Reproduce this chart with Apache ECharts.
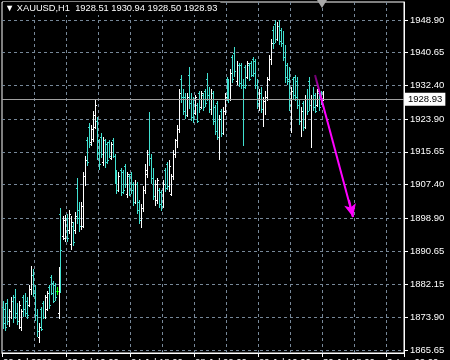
<!DOCTYPE html>
<html>
<head>
<meta charset="utf-8">
<script src="https://cdn.jsdelivr.net/npm/echarts@6/dist/echarts.min.js"></script>
<style>html,body{margin:0;padding:0;background:#000;}#c{width:450px;height:360px;}</style>
</head>
<body>
<div id="c"></div>
<script>
// ---- data (XAUUSD H1) ----
const opens = [
1876.5,1876.0,1877.5,1873.0,1875.5,1878.0,1879.0,1875.0,1873.0,1871.5,
1879.0,1876.0,1878.0,1877.0,1881.0,1884.5,1880.0,1874.5,1869.0,1876.0,
1877.5,1874.0,1876.0,1881.5,1884.0,1882.5,1882.0,1880.5,1875.0,1900.0,
1894.5,1894.0,1899.0,1896.0,1892.5,1897.0,1896.0,1906.5,1901.0,1897.0,
1897.0,1909.5,1918.5,1922.0,1918.0,1919.0,1922.0,1923.5,1918.5,1919.5,
1913.0,1918.5,1917.5,1918.0,1914.0,1918.5,1914.5,1910.5,1906.0,1911.0,
1910.5,1912.0,1905.0,1909.5,1910.0,1907.5,1903.0,1907.5,1903.0,1898.5,
1901.5,1906.0,1910.0,1915.0,1914.0,1909.0,1904.5,1903.5,1906.0,1905.5,
1902.0,1911.0,1912.5,1907.0,1905.0,1909.5,1915.0,1918.5,1921.5,1934.0,
1929.5,1929.5,1925.0,1935.0,1928.0,1929.0,1925.5,1927.5,1930.5,1927.0,
1930.0,1931.0,1934.0,1930.0,1926.5,1930.5,1927.0,1928.0,1919.5,1926.0,
1920.5,1926.0,1934.0,1933.5,1929.0,1939.5,1940.5,1933.5,1937.5,1937.5,
1932.5,1937.0,1934.5,1937.5,1938.0,1939.0,1938.5,1932.5,1928.0,1930.5,
1926.5,1928.5,1929.5,1934.0,1939.0,1946.5,1948.0,1944.0,1947.5,1946.5,
1943.0,1939.5,1937.5,1934.0,1927.5,1934.0,1934.5,1933.5,1927.5,1923.5,
1928.0,1922.0,1929.0,1933.5,1927.5,1929.0,1930.0,1927.5,1930.5,1930.5,
1928.51];
const highs = [
1878.0,1877.5,1878.5,1876.0,1879.0,1879.5,1881.0,1877.5,1878.0,1876.0,
1879.5,1880.0,1879.0,1882.0,1886.8,1886.0,1882.0,1876.0,1872.5,1876.5,
1878.0,1879.5,1880.5,1882.0,1884.5,1883.0,1882.5,1881.5,1886.5,1901.5,
1899.5,1899.8,1900.0,1901.0,1899.5,1898.0,1900.5,1909.0,1903.0,1903.0,
1910.5,1914.5,1919.5,1923.0,1922.5,1926.0,1928.8,1924.5,1919.0,1920.5,
1919.5,1919.0,1918.0,1918.5,1918.0,1919.2,1915.0,1911.0,1910.5,1911.5,
1911.0,1912.5,1910.5,1910.0,1910.5,1908.0,1908.5,1908.0,1903.5,1902.5,
1907.0,1912.5,1916.0,1925.7,1915.0,1911.5,1908.5,1909.0,1906.5,1906.0,
1908.5,1911.5,1913.0,1913.5,1910.0,1916.0,1919.0,1922.5,1931.5,1935.0,
1931.5,1930.5,1930.5,1937.0,1930.5,1929.5,1930.0,1928.0,1931.0,1931.0,
1930.5,1931.5,1935.5,1932.0,1931.5,1931.0,1927.5,1928.5,1925.0,1926.5,
1927.0,1930.5,1934.5,1934.0,1936.5,1940.0,1942.1,1938.5,1938.0,1938.0,
1934.0,1937.5,1938.5,1938.0,1938.5,1939.6,1939.0,1934.0,1931.5,1932.0,
1929.5,1931.0,1934.5,1940.0,1944.0,1947.5,1948.9,1948.5,1948.8,1947.0,
1946.0,1942.5,1938.0,1937.0,1932.0,1934.5,1935.0,1934.5,1929.0,1927.0,
1928.5,1930.0,1931.5,1934.5,1930.0,1932.0,1930.5,1931.5,1931.0,1931.0,
1930.94];
const lows = [
1871.0,1870.5,1872.0,1871.5,1873.5,1872.5,1873.5,1872.0,1871.0,1870.5,
1874.0,1874.0,1873.5,1876.5,1879.5,1879.0,1873.0,1869.0,1867.3,1870.5,
1873.5,1873.5,1875.5,1876.0,1879.5,1877.5,1878.0,1879.5,1873.5,1880.0,
1893.5,1893.0,1893.0,1895.0,1891.0,1892.0,1895.0,1897.5,1895.5,1896.0,
1896.5,1907.0,1912.0,1916.5,1917.0,1918.0,1921.5,1913.5,1911.0,1914.0,
1912.0,1911.5,1912.5,1914.0,1913.5,1914.0,1907.5,1905.0,1905.5,1904.5,
1905.0,1906.5,1904.0,1904.5,1905.0,1902.0,1902.5,1900.0,1897.5,1896.3,
1900.5,1905.0,1909.0,1912.0,1907.5,1903.5,1902.0,1902.5,1901.5,1900.8,
1901.5,1905.5,1906.0,1905.5,1904.5,1908.5,1914.0,1916.5,1920.5,1928.0,
1925.0,1923.8,1924.5,1926.5,1923.5,1923.0,1925.0,1922.8,1925.5,1926.5,
1926.0,1927.0,1928.5,1925.5,1925.0,1922.5,1920.0,1918.5,1913.6,1919.5,
1920.0,1925.0,1928.5,1928.0,1928.5,1933.0,1934.5,1932.5,1932.0,1931.5,
1917.0,1931.5,1934.0,1933.5,1934.5,1934.5,1931.5,1926.5,1926.0,1925.5,
1921.9,1925.0,1928.5,1933.5,1937.5,1941.5,1943.0,1943.5,1942.5,1942.0,
1938.5,1933.0,1932.5,1926.0,1920.4,1929.0,1928.5,1926.5,1922.5,1919.4,
1921.0,1921.5,1925.0,1926.0,1916.6,1926.0,1925.5,1927.0,1926.0,1927.5,
1928.50];
const closes = [
1872.5,1871.5,1873.0,1875.5,1878.0,1874.0,1875.0,1873.0,1877.0,1875.5,
1876.0,1875.0,1874.5,1881.0,1884.5,1880.0,1874.5,1870.5,1871.5,1871.0,
1874.0,1879.0,1880.0,1877.0,1880.0,1878.0,1879.0,1880.5,1885.5,1891.0,
1898.5,1899.0,1894.0,1900.0,1898.0,1893.0,1899.5,1899.0,1897.0,1902.0,
1909.5,1913.5,1913.0,1917.5,1921.5,1925.0,1927.5,1915.5,1912.5,1915.0,
1918.5,1913.0,1913.5,1914.5,1917.5,1914.5,1908.5,1906.0,1909.5,1905.5,
1906.0,1907.5,1910.0,1905.0,1906.0,1903.0,1907.5,1901.0,1898.5,1901.5,
1906.0,1911.0,1915.0,1914.0,1909.0,1904.5,1907.5,1908.5,1902.5,1902.0,
1907.5,1906.5,1907.0,1912.0,1909.5,1915.0,1918.5,1921.5,1930.5,1929.5,
1926.0,1925.0,1929.5,1928.0,1924.5,1924.0,1929.5,1923.5,1926.5,1930.5,
1927.0,1928.0,1930.0,1926.5,1930.5,1923.5,1921.0,1919.5,1924.0,1920.5,
1926.0,1929.5,1929.5,1929.0,1935.5,1934.0,1936.0,1937.5,1933.0,1932.5,
1932.0,1932.5,1938.0,1934.0,1935.0,1935.5,1932.5,1928.0,1930.5,1926.5,
1928.5,1929.5,1934.0,1939.0,1943.0,1943.0,1944.0,1947.5,1943.5,1943.0,
1939.5,1934.5,1933.5,1927.5,1931.0,1930.0,1929.5,1927.5,1923.5,1926.0,
1922.0,1929.0,1926.0,1927.5,1929.0,1927.0,1926.0,1931.0,1927.0,1928.0,
1928.93];
const yTickLabels = ['1865.65','1873.90','1882.15','1890.65','1898.90','1907.40','1915.65','1923.90','1932.40','1940.65','1948.90'];
const xTickLabels = ['22 Jul 2020','23 Jul 10:00','24 Jul 18:00','28 Jul 02:00','29 Jul 10:00','30 Jul 18:00','3 Aug 02:00'];
const totalSlots = 201;           // bar slots across the chart width (incl. empty right margin)
const bidPrice = 1928.93;
const arrowStart = [156, 1935.0];
const arrowEnd = [175, 1899.2];
const yMin = 1864.89, yMax = 1953.44;
const header = '\u25BC XAUUSD,H1  1928.51 1930.94 1928.50 1928.93';

// ---- build ----
const xCats = Array.from({length: totalSlots}, (_, i) => String(i));
const yTickValues = yTickLabels.map(Number);
const upBars = [], downBars = [], flatBars = [];
opens.forEach((o, i) => {
  const item = [i, lows[i], highs[i], o, closes[i]];
  if (closes[i] > o) upBars.push(item);
  else if (closes[i] < o) downBars.push(item);
  else flatBars.push(item);
});
const FONT = 'Liberation Sans';
function barRenderer(color) {
  return function (params, api) {
    const i = api.value(0), l = api.value(1), h = api.value(2), o = api.value(3), c = api.value(4);
    const top = api.coord([i, h]);
    const bot = api.coord([i, l]);
    const x = Math.round(top[0] - 0.5);
    const y0 = Math.round(top[1]);
    const y1 = Math.round(bot[1]);
    const yo = Math.round(api.coord([i, o])[1]);
    const yc = Math.round(api.coord([i, c])[1]);
    const st = {fill: color, stroke: null, lineWidth: 0};
    return {type: 'group', children: [
      {type: 'rect', shape: {x: x, y: y0, width: 1, height: Math.max(1, y1 - y0)}, style: st},
      {type: 'rect', shape: {x: x - 1, y: Math.min(yo, y1 - 1), width: 1, height: 1}, style: st},
      {type: 'rect', shape: {x: x + 1, y: Math.min(yc, y1 - 1), width: 1, height: 1}, style: st}
    ]};
  };
}
function barSeries(data, color) {
  return {type: 'custom', data: data, encode: {x: 0, y: [1, 2, 3, 4]}, clip: true, silent: true, renderItem: barRenderer(color)};
}
const chart = echarts.init(document.getElementById('c'), null, {renderer: 'canvas'});
chart.setOption({
  animation: false,
  backgroundColor: '#000',
  title: {
    text: header, left: 3, top: 2, padding: [2, 3, 2, 2],
    backgroundColor: '#000',
    textStyle: {color: '#fff', fontSize: 9.3, fontWeight: 'normal', fontFamily: FONT}
  },
  grid: {left: 2, right: 46, top: 2, bottom: 7, show: true, borderColor: '#fff', borderWidth: 1,
    backgroundColor: 'transparent', containLabel: false, outerBoundsMode: 'none'},
  xAxis: {
    type: 'category', data: xCats, boundaryGap: true,
    axisLine: {show: true, lineStyle: {color: '#fff', width: 1}},
    axisTick: {show: true, length: 4, interval: (i) => i % 32 === 0, lineStyle: {color: '#fff'}},
    axisLabel: {show: true, interval: (i) => i % 32 === 0, formatter: (v, i) => xTickLabels[Math.round(i / 32)] || '',
      color: '#fff', fontSize: 9.5, fontFamily: FONT, align: 'left', margin: 4, hideOverlap: false},
    splitLine: {show: true, interval: (i) => i % 16 === 0 && i > 0, lineStyle: {color: '#778899', type: [3, 3], width: 1}}
  },
  yAxis: {
    type: 'value', position: 'right', min: yMin, max: yMax, scale: true,
    axisLine: {show: true, lineStyle: {color: '#fff', width: 1}},
    axisTick: {show: true, length: 4, inside: false, lineStyle: {color: '#fff'}, customValues: yTickValues},
    axisLabel: {show: true, customValues: yTickValues, formatter: (v) => v.toFixed(2), color: '#fff', fontSize: 9.5, fontFamily: FONT, margin: 6},
    splitLine: {show: true, lineStyle: {color: '#778899', type: [3, 3], width: 1}}
  },
  series: [
    barSeries(upBars, '#ffffff'),
    barSeries(downBars, '#40e0d0'),
    barSeries(flatBars, '#00ff00'),
    {
      type: 'line', data: [], silent: true,
      markLine: {
        silent: true, symbol: ['none', 'none'],
        lineStyle: {color: '#a0a0a0', type: 'solid', width: 1},
        label: {show: true, position: 'end', formatter: bidPrice.toFixed(2), backgroundColor: '#fff', color: '#000',
          fontSize: 9.5, fontFamily: FONT, padding: [2, 3, 1, 3], distance: 1},
        data: [{yAxis: bidPrice}]
      },
      markPoint: {
        silent: true,
        data: [{coord: [160, yMax], symbol: 'triangle', symbolRotate: 180, symbolSize: [10, 8], symbolOffset: [-1, 2],
          itemStyle: {color: '#a9a9a9'}, label: {show: false}}]
      }
    },
    {
      type: 'line', data: [], silent: true,
      markLine: {
        silent: true, symbol: ['none', 'none'], label: {show: false},
        lineStyle: {width: 2, type: 'solid',
          color: {type: 'linear', x: 0, y: 0, x2: 0, y2: 1, colorStops: [
            {offset: 0, color: '#5a005a'}, {offset: 0.18, color: '#ff00ff'}, {offset: 1, color: '#ff00ff'}]}},
        data: [[{coord: arrowStart}, {coord: arrowEnd}]]
      }
    },
    {
      type: 'line', data: [], silent: true,
      markLine: {
        silent: true, symbol: ['none', 'arrow'], symbolSize: [9, 13], label: {show: false},
        lineStyle: {width: 2, type: 'solid', color: '#ff00ff'},
        data: [[{coord: [173, 1903.5]}, {coord: arrowEnd}]]
      }
    }
  ]
});
</script>
</body>
</html>
